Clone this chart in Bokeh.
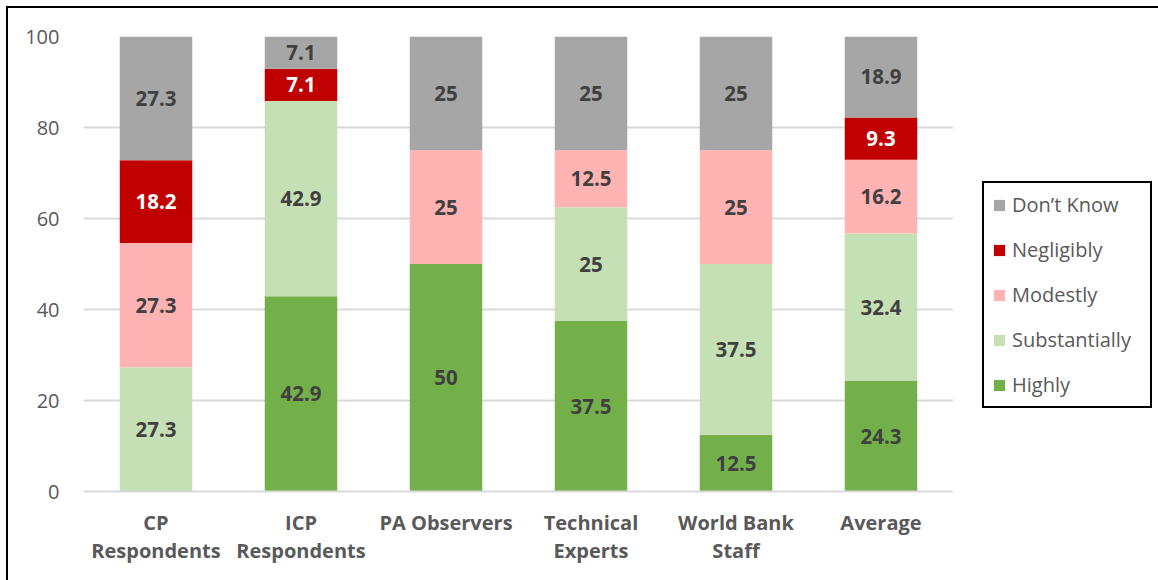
from bokeh.plotting import figure
from bokeh.layouts import row
from bokeh.models import ColumnDataSource, Legend, LegendItem, FixedTicker
from bokeh.core.properties import value
from bokeh.embed import file_html
from bokeh.resources import INLINE

categories = ["CP\nRespondents", "ICP\nRespondents", "PA Observers", "Technical\nExperts", "World Bank\nStaff", "Average"]
highly = [0, 42.9, 50, 37.5, 12.5, 24.3]
substantially = [27.3, 42.9, 0, 25, 37.5, 32.4]
modestly = [27.3, 0, 25, 12.5, 25, 16.2]
negligibly = [18.2, 7.1, 0, 0, 0, 9.3]
dont_know = [27.3, 7.1, 25, 25, 25, 18.9]

series_names = ["Highly", "Substantially", "Modestly", "Negligibly", "Don\u2019t Know"]
series_vals = [highly, substantially, modestly, negligibly, dont_know]
colors = ["#74b04a", "#c5e0b4", "#ffb3b3", "#c00000", "#a6a6a6"]
label_colors = ["#404040", "#404040", "#404040", "#ffffff", "#404040"]
y_ticks = [0, 20, 40, 60, 80, 100]

FONT = "Open Sans"

data = {"cat": categories}
keys = ["s%d" % i for i in range(len(series_names))]
for k, v in zip(keys, series_vals):
    data[k] = v
src = ColumnDataSource(data)

p = figure(x_range=categories, y_range=(0, 100), width=945, height=572,
           output_backend="svg", toolbar_location=None,
           min_border_left=75, min_border_right=0, min_border_top=28, min_border_bottom=89)
p.outline_line_color = None
p.background_fill_color = "white"
p.border_fill_color = "white"

renderers = p.vbar_stack(keys, x="cat", width=0.5, color=colors, source=src, line_color=None)

# data labels
for i, (vals, lc) in enumerate(zip(series_vals, label_colors)):
    xs, ys, ts = [], [], []
    for j, c in enumerate(categories):
        v = vals[j]
        if v == 0:
            continue
        bottom = sum(series_vals[k][j] for k in range(i))
        top = bottom + v
        xs.append(c)
        ys.append((min(bottom, 100) + min(top, 100)) / 2)
        ts.append(("%g" % v))
    p.text(x=xs, y=ys, text=ts, text_align="center", text_baseline="middle",
           text_font=value(FONT), text_font_size="20.5px", text_font_style="bold",
           text_color=lc)

# axes
p.yaxis.ticker = FixedTicker(ticks=y_ticks)
p.yaxis.axis_line_color = None
p.yaxis.major_tick_line_color = None
p.yaxis.minor_tick_line_color = None
p.yaxis.major_label_text_font = FONT
p.yaxis.major_label_text_font_size = "20px"
p.yaxis.major_label_text_color = "#595959"
p.yaxis.major_label_standoff = 18

p.xaxis.axis_line_color = "#d9d9d9"
p.xaxis.axis_line_width = 2
p.xaxis.major_tick_line_color = None
p.xaxis.minor_tick_line_color = None
p.xaxis.major_label_text_font = FONT
p.xaxis.major_label_text_font_size = "20px"
p.xaxis.major_label_text_font_style = "bold"
p.xaxis.major_label_text_color = "#595959"
p.xaxis.major_label_text_line_height = 1.06
p.xaxis.major_label_standoff = 11

p.xgrid.grid_line_color = None
p.ygrid.grid_line_color = "#d9d9d9"
p.ygrid.grid_line_width = 2

# legend panel (its renderers are hidden; only the legend is seen)
lp = figure(width=205, height=572, output_backend="svg", toolbar_location=None,
            x_axis_type=None, y_axis_type=None, x_range=categories, y_range=(0, 100),
            min_border=0, min_border_left=0, min_border_right=0, min_border_top=0, min_border_bottom=0)
lp.outline_line_color = None
lp.grid.visible = False
lp.background_fill_color = "white"
lp.border_fill_color = "white"
lrend = lp.vbar_stack(keys, x="cat", width=0.5, color=colors, source=src, line_color=None, visible=False)

items = [LegendItem(label=n, renderers=[r]) for n, r in zip(series_names, lrend)][::-1]
legend = Legend(items=items, location=(29, 83), orientation="vertical",
                label_text_font=FONT, label_text_font_size="20px", label_text_color="#595959",
                glyph_width=14, glyph_height=14, label_height=22, label_width=130,
                spacing=18, padding=8, margin=0,
                label_standoff=6, border_line_color="black", border_line_width=2, border_line_alpha=1,
                background_fill_alpha=1)
lp.add_layout(legend, "center")

layout = row(p, lp, spacing=0)
layout.styles = {"margin-left": "8px", "margin-top": "8px", "outline": "2px solid black"}

open("out.html", "w").write(file_html(layout, INLINE))
